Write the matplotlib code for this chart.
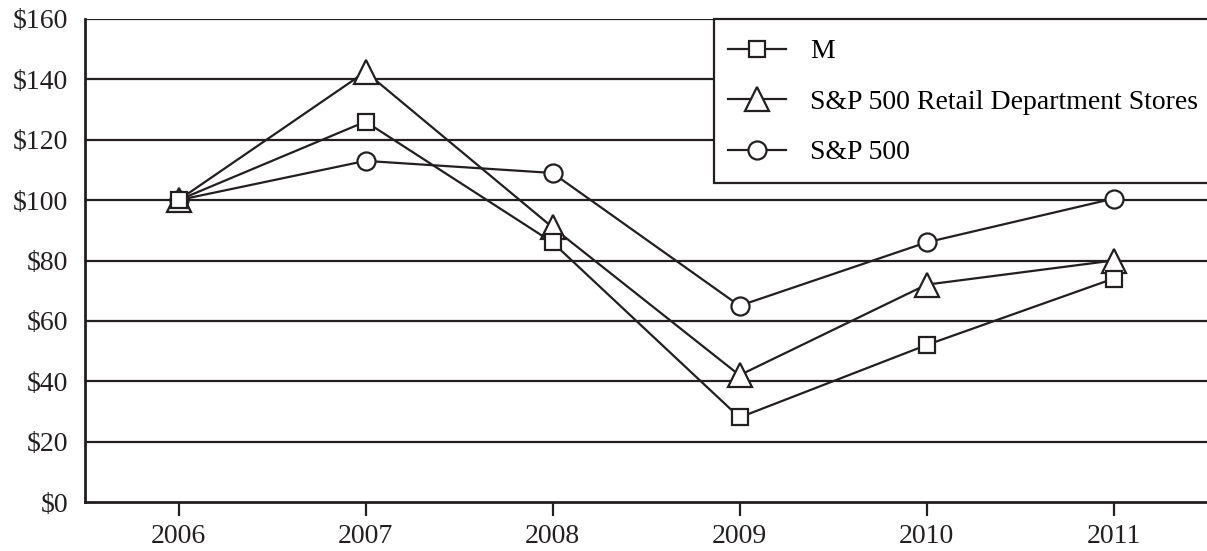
import matplotlib
matplotlib.use('Agg')
import matplotlib.pyplot as plt

# data
years = [2006, 2007, 2008, 2009, 2010, 2011]
m_vals = [100, 126, 86, 28, 52, 74]
retail_vals = [100, 142.5, 91, 42, 72, 80]
sp500_vals = [100, 113, 109, 65, 86, 100.5]

y_ticks = [0, 20, 40, 60, 80, 100, 120, 140, 160]
y_labels = ['$' + str(v) for v in y_ticks]

plt.rcParams['font.family'] = ['Liberation Serif', 'DejaVu Serif']
plt.rcParams['font.size'] = 20

W, H = 1207, 551
fig = plt.figure(figsize=(W / 100, H / 100), dpi=100)
ax = fig.add_axes([85 / W, 1 - 502 / H, 1 - 85 / W, (502 - 19) / H])

ink = '#231f20'
lw = 1.6
# horizontal grid lines
for v in y_ticks[1:]:
    ax.axhline(v, color=ink, lw=lw, zorder=1)

style = dict(color=ink, lw=lw, markerfacecolor='white',
             markeredgecolor=ink, markeredgewidth=lw, zorder=3)
ax.plot(years, sp500_vals, marker='o', markersize=13, label='S&P 500', **style)
ax.plot(years, retail_vals, marker='^', markersize=17, label='S&P 500 Retail Department Stores', **style)
ax.plot(years, m_vals, marker='s', markersize=12, label='M', **style)

ax.set_xlim(2005.5, 2011.5)
ax.set_ylim(0, 160)
ax.set_xticks(years)
ax.set_xticklabels([str(y) for y in years])
ax.set_yticks(y_ticks)
ax.set_yticklabels(y_labels)
ax.tick_params(axis='y', length=0, pad=12, colors=ink)
ax.tick_params(axis='x', length=10, width=lw, direction='out', pad=6, colors=ink)

for s in ['top', 'right']:
    ax.spines[s].set_visible(False)
for s in ['left', 'bottom']:
    ax.spines[s].set_linewidth(2)
    ax.spines[s].set_color(ink)

# legend box, running off the right edge of the figure
box = plt.Rectangle((714 / W, 1 - 183 / H), 0.5, (183 - 19) / H,
                    transform=fig.transFigure, facecolor='white',
                    edgecolor=ink, lw=lw, zorder=5)
fig.patches.append(box)

handles, labels = ax.get_legend_handles_labels()
order = [2, 1, 0]
leg = fig.legend([handles[i] for i in order], [labels[i] for i in order],
                 loc='upper left', bbox_to_anchor=(728 / W, 1 - 39 / H),
                 frameon=False, borderaxespad=0, borderpad=0,
                 handlelength=2.1, handletextpad=0.85, labelspacing=0.9)
leg.set_zorder(6)

fig.savefig('out.png', dpi=100)
